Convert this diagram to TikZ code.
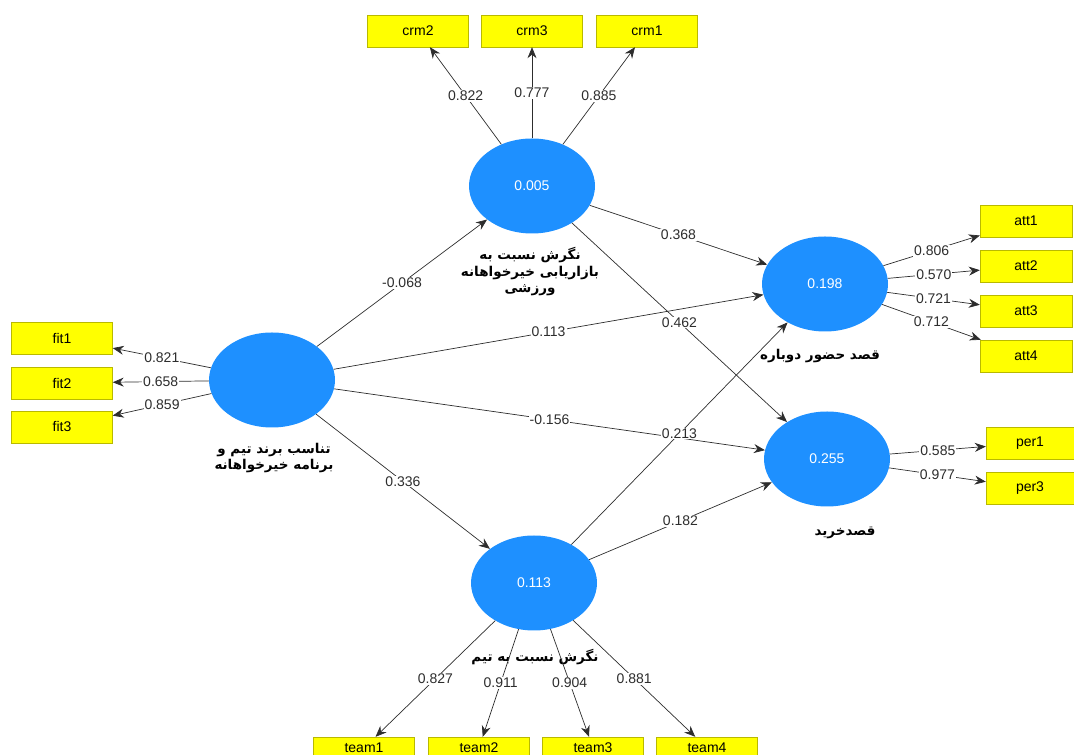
\documentclass[tikz,border=0pt]{standalone}
\usepackage{fontspec}
\setmainfont{Liberation Sans}
\newfontfamily\farsi[Script=Arabic]{DejaVu Sans}
\TeXXeTstate=1
\usetikzlibrary{shapes.geometric,arrows.meta}
\definecolor{lvblue}{RGB}{30,144,255}
\definecolor{mvyellow}{RGB}{255,255,0}
\definecolor{mvborder}{RGB}{185,185,0}
\definecolor{pathgray}{RGB}{45,45,45}

\begin{document}
\begin{tikzpicture}[x=1pt,y=1pt,
  lv/.style={ellipse,fill=lvblue,text=white,minimum width=126pt,minimum height=95pt,inner sep=0pt,font=\fontsize{14}{16}\selectfont},
  mv/.style={draw=mvborder,fill=mvyellow,minimum width=101pt,minimum height=32pt,inner sep=0pt,font=\fontsize{14}{16}\selectfont},
  coef/.style={fill=white,inner sep=1pt,text=pathgray,font=\fontsize{14}{16}\selectfont},
  fa/.style={align=center,font=\farsi\bfseries\fontsize{13.5}{16.5}\selectfont}]
  \useasboundingbox (0,0) rectangle (1074,755);

  \node[lv] (lvcrm) at (532,569) {0.005};
  \node[lv] (lvfit) at (272,375) {};
  \node[lv] (lvatt) at (825,471) {0.198};
  \node[lv] (lvper) at (827,296) {0.255};
  \node[lv] (lvteam) at (534,172) {0.113};

  \node[mv] (crm2) at (418,724) {crm2};
  \node[mv] (crm3) at (532,724) {crm3};
  \node[mv] (crm1) at (647,724) {crm1};
  \node[mv] (fit1) at (62,417) {fit1};
  \node[mv] (fit2) at (62,372) {fit2};
  \node[mv] (fit3) at (62,328) {fit3};
  \node[mv,minimum width=92pt] (att1) at (1026,534) {att1};
  \node[mv,minimum width=92pt] (att2) at (1026,489) {att2};
  \node[mv,minimum width=92pt] (att3) at (1026,444) {att3};
  \node[mv,minimum width=92pt] (att4) at (1026,399) {att4};
  \node[mv,minimum width=88pt] (per1) at (1030,312) {per1};
  \node[mv,minimum width=88pt] (per3) at (1030,267) {per3};
  \node[mv,minimum height=22pt] (team1) at (364,7) {team1};
  \node[mv,minimum height=22pt] (team2) at (479,7) {team2};
  \node[mv,minimum height=22pt] (team3) at (593,7) {team3};
  \node[mv,minimum height=22pt] (team4) at (707,7) {team4};

  \node[fa] (crmname) at (530,483) {\beginR نگرش نسبت به\endR\\\beginR بازاریابی خیرخواهانه\endR\\\beginR ورزشی\endR};
  \node[fa] (fitname) at (274,297) {\beginR تناسب برند تیم و\endR\\\beginR برنامه خیرخواهانه\endR};
  \node[fa] (attname) at (820,399) {\beginR قصد حضور دوباره\endR};
  \node[fa] (pername) at (845,222) {\beginR قصدخرید\endR};
  \node[fa] (teamname) at (535,98) {\beginR نگرش نسبت به تیم\endR};

  \path[-{Stealth[length=11pt,width=9pt]},pathgray,line width=0.7pt]
    (lvcrm) edge node[coef] {0.822} (crm2)
            edge node[coef] {0.777} (crm3)
            edge node[coef] {0.885} (crm1)
            edge node[coef] {0.368} (lvatt)
            edge node[coef] {0.462} (lvper)
    (lvfit) edge node[coef] {0.821} (fit1)
            edge node[coef] {0.658} (fit2)
            edge node[coef] {0.859} (fit3)
            edge node[coef] {-0.068} (lvcrm)
            edge node[coef] {0.113} (lvatt)
            edge node[coef] {-0.156} (lvper)
            edge node[coef] {0.336} (lvteam)
    (lvteam) edge node[coef] {0.213} (lvatt)
             edge node[coef] {0.182} (lvper)
             edge node[coef] {0.827} (team1)
             edge node[coef] {0.911} (team2)
             edge node[coef] {0.904} (team3)
             edge node[coef] {0.881} (team4)
    (lvatt) edge node[coef] {0.806} (att1)
            edge node[coef] {0.570} (att2)
            edge node[coef] {0.721} (att3)
            edge node[coef] {0.712} (att4)
    (lvper) edge node[coef] {0.585} (per1)
            edge node[coef] {0.977} (per3);
\end{tikzpicture}
\end{document}
